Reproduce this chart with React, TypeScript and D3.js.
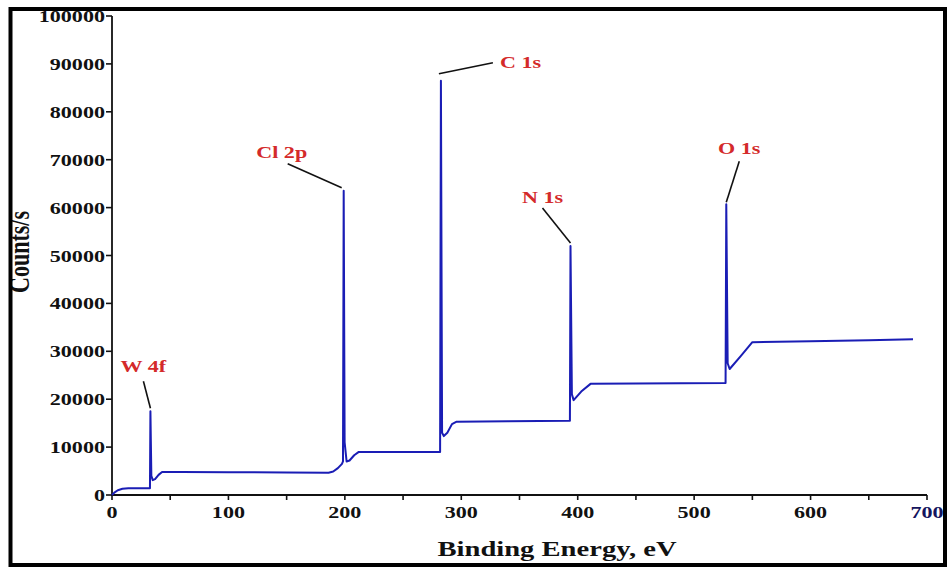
import React from "react";
import * as d3 from "d3";

// Spectrum points: binding energy (eV) and counts/s
const energy = [
  0, 2, 5, 9, 14, 32.6, 33, 33.8, 35, 37, 40, 43, 60, 100, 150, 186, 190, 194, 197.5, 198.4, 199,
  199.8, 201.5, 204, 208, 212, 250, 281.8, 282.5, 283.5, 285, 288, 292, 296, 340, 393.3, 393.8,
  395, 396.5, 403, 411, 450, 527, 527.6, 528.8, 530.5, 540, 550, 600, 650, 688,
];
const counts = [
  0, 500, 1000, 1300, 1400, 1400, 17500, 4000, 3100, 3300, 4200, 4800, 4800, 4750, 4700, 4650,
  4900, 5600, 6500, 7000, 63500, 11000, 7000, 7200, 8300, 9000, 9000, 9000, 86500, 13000, 12300,
  13000, 14800, 15300, 15400, 15500, 52000, 21000, 19800, 21600, 23200, 23300, 23400, 60700,
  27500, 26300, 29000, 31900, 32100, 32300, 32500,
];

const xTicks = [0, 100, 200, 300, 400, 500, 600, 700];
const xMinorTicks = [0, 50, 100, 150, 200, 250, 300, 350, 400, 450, 500, 550, 600, 650, 700];
const yTicks = [0, 10000, 20000, 30000, 40000, 50000, 60000, 70000, 80000, 90000, 100000];

const peakLabels = ["W 4f", "Cl 2p", "C 1s", "N 1s", "O 1s"];
const peakEnergy = [33, 199, 282.5, 393.8, 527.6];
const peakCounts = [17500, 63500, 86500, 52000, 60700];

// label layout (pixel offsets from the peak top): [lineStartDx, lineStartDy, lineEndDx, lineEndDy, textDx, textDy, anchor]
const labelLayout: [number, number, number, number, number, number, string][] = [
  [-7, -30, 0, -3, -7, -39, "middle"],
  [-56, -27, -2, -3, -62, -33, "middle"],
  [52, -18, -2, -7, 59, -13, "start"],
  [-28, -38, 0, -3, -28, -43, "middle"],
  [13, -43, 0, -2, 13, -50, "middle"],
];

const W = 947;
const H = 567;
const SX = 1.3; // horizontal stretch of the original image
const FONT = "'Liberation Serif', 'Times New Roman', serif";

export default function App() {
  const x = d3.scaleLinear().domain([0, 700]).range([112, 927]);
  const y = d3.scaleLinear().domain([0, 100000]).range([495, 16]);
  const pts: [number, number][] = energy.map((e, i) => [e, counts[i]]);
  const line = d3
    .line<[number, number]>()
    .x((d) => x(d[0]))
    .y((d) => y(d[1]));

  return (
    <svg
      width={W}
      height={H}
      style={{ position: "absolute", left: 0, top: 0, background: "#fff" }}
      fontFamily={FONT}
      fontWeight="bold"
    >
      <rect x={0} y={0} width={W} height={H} fill="#fff" />
      {/* axes */}
      <line x1={112} x2={112} y1={y(100000)} y2={y(0)} stroke="#111" strokeWidth={1.8} />
      <line x1={x(0)} x2={x(700)} y1={495} y2={495} stroke="#111" strokeWidth={1.8} />
      {yTicks.map((t) => (
        <g key={"y" + t}>
          <line x1={106} x2={112} y1={y(t)} y2={y(t)} stroke="#111" strokeWidth={1.6} />
          <text
            transform={`translate(105,${y(t) + 6}) scale(${SX},1)`}
            textAnchor="end"
            fontSize={17}
            fill="#111"
          >
            {t}
          </text>
        </g>
      ))}
      {xMinorTicks.map((t) => (
        <line key={"xm" + t} x1={x(t)} x2={x(t)} y1={495} y2={500} stroke="#111" strokeWidth={1.6} />
      ))}
      {xTicks.map((t) => (
        <text
          key={"x" + t}
          transform={`translate(${x(t)},518) scale(${SX},1)`}
          textAnchor="middle"
          fontSize={17}
          fill={t === 700 ? "#15155e" : "#111"}
        >
          {t}
        </text>
      ))}
      {/* spectrum */}
      <path d={line(pts) || ""} fill="none" stroke="#1a1db5" strokeWidth={2} strokeLinejoin="round" />
      {/* peak annotations */}
      {peakLabels.map((lab, i) => {
        const px = x(peakEnergy[i]);
        const py = y(peakCounts[i]);
        const [sx, sy, ex, ey, tx, ty, anchor] = labelLayout[i];
        return (
          <g key={lab}>
            <line x1={px + sx} y1={py + sy} x2={px + ex} y2={py + ey} stroke="#111" strokeWidth={1.6} />
            <text
              transform={`translate(${px + tx},${py + ty}) scale(${SX},1)`}
              textAnchor={anchor}
              fontSize={17}
              fill="#d42a2a"
            >
              {lab}
            </text>
          </g>
        );
      })}
      {/* axis titles */}
      <text transform={`translate(557,556) scale(${SX},1)`} textAnchor="middle" fontSize={22} fill="#111">
        Binding Energy, eV
      </text>
      <text
        transform={`translate(29,252) scale(${SX},1) rotate(-90)`}
        textAnchor="middle"
        fontSize={22}
        fill="#111"
      >
        Counts/s
      </text>
      {/* frame */}
      <rect x={10.5} y={9} width={934.5} height={556} fill="none" stroke="#000" strokeWidth={4} />
    </svg>
  );
}
